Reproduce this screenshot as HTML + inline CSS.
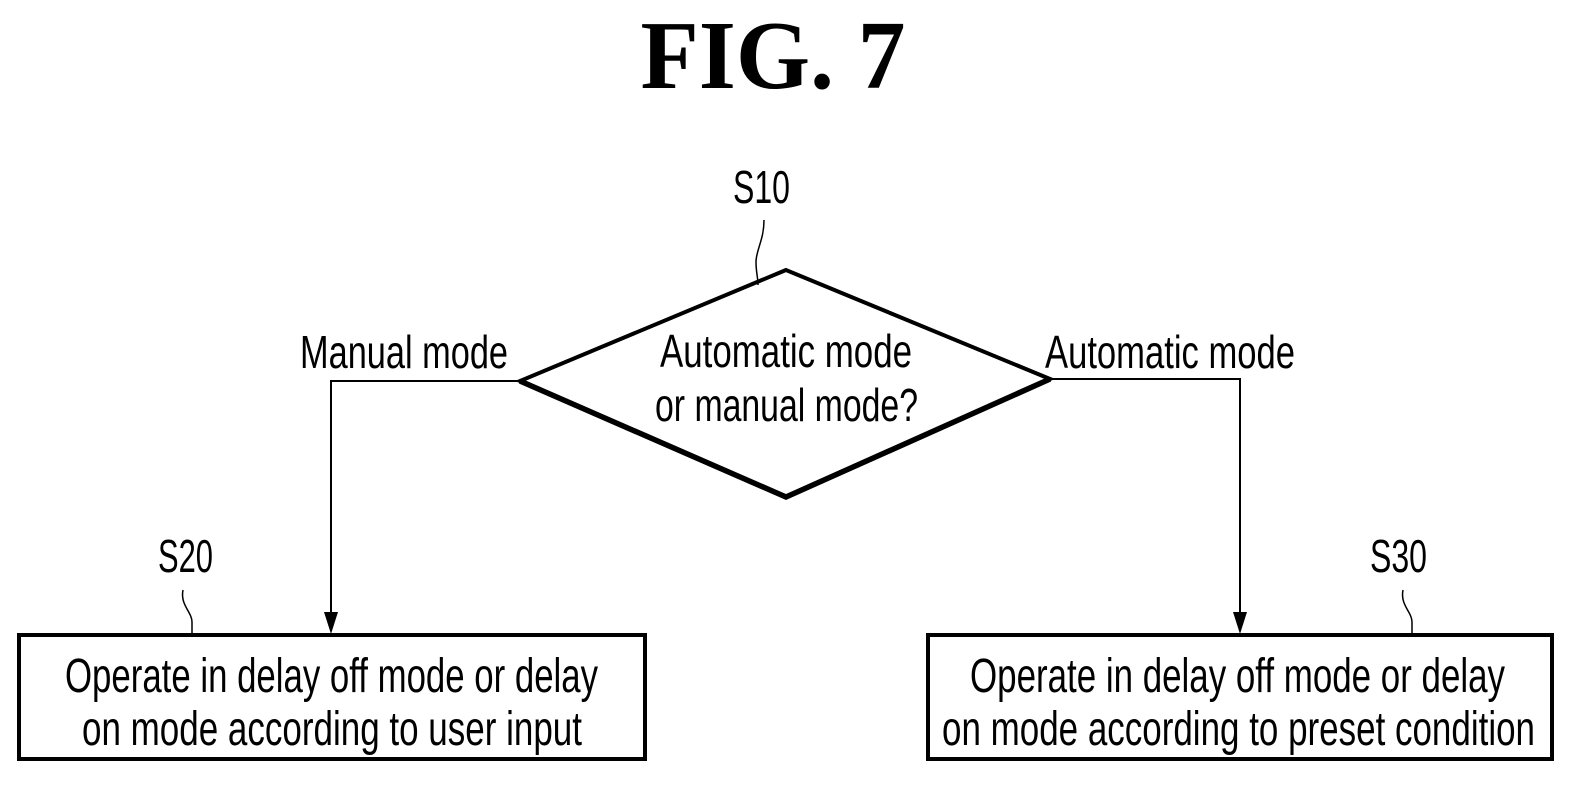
<!DOCTYPE html>
<html><head><style>
html,body{margin:0;padding:0;background:#fff;}
svg{display:block;}
text{font-family:"Liberation Sans",sans-serif;fill:#000;}
</style></head><body>
<svg width="1594" height="791" viewBox="0 0 1594 791" xmlns="http://www.w3.org/2000/svg">
<text x="773" y="88" text-anchor="middle" style="font-family:'Liberation Serif',serif;font-size:98px;font-weight:bold" textLength="265" lengthAdjust="spacingAndGlyphs">FIG. 7</text>

<text x="733" y="203" font-size="46" textLength="57" lengthAdjust="spacingAndGlyphs">S10</text>
<path d="M764,220 C764,240 756,250 756,262 C756,272 758,278 758,285" fill="none" stroke="#000" stroke-width="1.5"/>

<polygon points="786,270 520,381 786,497 1050,379" fill="none" stroke="#000" stroke-width="4" stroke-linejoin="miter"/>
<polyline points="520,381 786,497 1050,379" fill="none" stroke="#000" stroke-width="5.5"/>
<text x="660" y="367" font-size="46" textLength="252" lengthAdjust="spacingAndGlyphs">Automatic mode</text>
<text x="655" y="421" font-size="46" textLength="263" lengthAdjust="spacingAndGlyphs">or manual mode?</text>

<text x="300" y="368" font-size="46" textLength="208" lengthAdjust="spacingAndGlyphs">Manual mode</text>
<text x="1045" y="368" font-size="46" textLength="250" lengthAdjust="spacingAndGlyphs">Automatic mode</text>

<polyline points="520,381 331,381 331,615" fill="none" stroke="#000" stroke-width="2"/>
<polygon points="324,612 338,612 331,634" fill="#000"/>
<polyline points="1050,379 1240,379 1240,615" fill="none" stroke="#000" stroke-width="2"/>
<polygon points="1233,612 1247,612 1240,634" fill="#000"/>

<text x="158" y="572" font-size="46" textLength="55" lengthAdjust="spacingAndGlyphs">S20</text>
<path d="M183,590 C180,605 192,612 192,622 L192,634" fill="none" stroke="#000" stroke-width="1.5"/>
<text x="1370" y="572" font-size="46" textLength="57" lengthAdjust="spacingAndGlyphs">S30</text>
<path d="M1403,590 C1400,605 1412,612 1412,622 L1412,634" fill="none" stroke="#000" stroke-width="1.5"/>

<rect x="19" y="635" width="626" height="124" fill="none" stroke="#000" stroke-width="4"/>
<text x="65" y="692" font-size="48" textLength="533" lengthAdjust="spacingAndGlyphs">Operate in delay off mode or delay</text>
<text x="82" y="745" font-size="48" textLength="500" lengthAdjust="spacingAndGlyphs">on mode according to user input</text>

<rect x="928" y="635" width="624" height="124" fill="none" stroke="#000" stroke-width="4"/>
<text x="970" y="692" font-size="48" textLength="535" lengthAdjust="spacingAndGlyphs">Operate in delay off mode or delay</text>
<text x="942" y="745" font-size="48" textLength="593" lengthAdjust="spacingAndGlyphs">on mode according to preset condition</text>
</svg>
</body></html>
